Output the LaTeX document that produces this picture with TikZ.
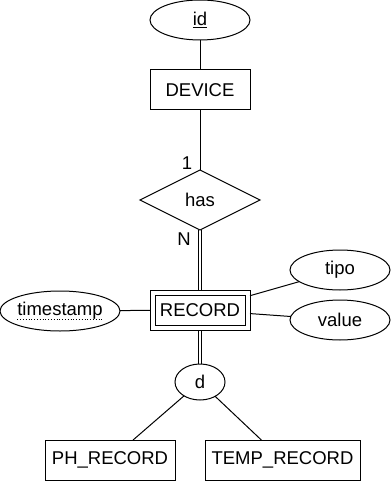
\documentclass[tikz,border=0pt]{standalone}
\usepackage{fontspec}
\setmainfont{Liberation Sans}
\usetikzlibrary{shapes.geometric,backgrounds}
\begin{document}
\begin{tikzpicture}[x=1pt,y=-1pt,
  every node/.style={font=\fontsize{18.5}{22}\selectfont, inner sep=0pt, outer sep=0pt},
  entity/.style={draw, line width=1pt, rectangle, minimum width=#1, minimum height=40pt},
  attr/.style={draw, line width=1pt, ellipse, minimum width=#1, minimum height=40pt},
  rel/.style={draw, line width=1pt, diamond, minimum width=120pt, minimum height=60pt},
  link/.style={line width=1pt},
  total/.style={line width=0.9pt, double, double distance=2.2pt}]
\useasboundingbox (0,0) rectangle (391,481);

% entities
\node[entity=100pt] (dev) at (200,90) {DEVICE};
\node[entity=100pt] (rec) at (200,310) {RECORD};
\draw[line width=1pt] ([shift={(5,5)}]rec.north west) rectangle ([shift={(-5,-5)}]rec.south east);
\node[entity=130pt] (ph) at (110,460) {PH\_RECORD};
\node[entity=155pt] (temp) at (282.5,460) {TEMP\_RECORD};

% relationship and specialisation
\node[rel] (has) at (200,200) {has};
\node[draw, line width=1pt, ellipse, minimum width=50pt, minimum height=36pt] (spec) at (200,382) {d};

% attributes
\node[attr=100pt] (id) at (200,20) {\underline{id}};
\node[attr=120pt] (ts) at (60,311) {};
\node (tstext) at (60,311) {timestamp};
\draw[line width=0.8pt, dotted] ([yshift=-4pt]tstext.base west) -- ([yshift=-4pt]tstext.base east);
\node[attr=100pt] (tipo) at (340,270) {tipo};
\node[attr=100pt] (val) at (340,320) {value};

% cardinalities
\node (c1) at (187,163) {1};
\node (cn) at (184,239) {N};

% connectors
\begin{pgfonlayer}{background}
\draw[link] (id) -- (dev);
\draw[link] (dev) -- (has);
\draw[total] (has) -- (rec);
\draw[link] (ts) -- (rec);
\draw[link] (tipo) -- (rec);
\draw[link] (val) -- (rec);
\draw[total] (rec) -- (spec);
\draw[link] (spec) -- (ph);
\draw[link] (spec) -- (temp);
\end{pgfonlayer}
\end{tikzpicture}
\end{document}
